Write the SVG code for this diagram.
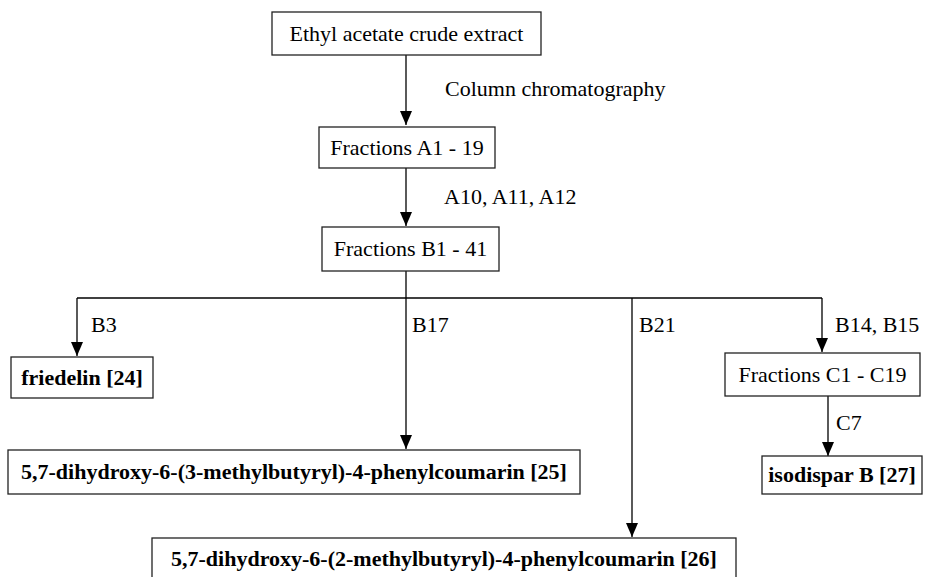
<svg xmlns="http://www.w3.org/2000/svg" width="928" height="577" viewBox="0 0 928 577">
<defs>
<marker id="ah" markerWidth="14" markerHeight="12" refX="14" refY="6" orient="auto" markerUnits="userSpaceOnUse">
<path d="M0,0 L14,6 L0,12 z" fill="#000"/>
</marker>
<style>
.box{fill:#fff;stroke:#222;stroke-width:1.3}
.t{font-family:"Liberation Serif","Times New Roman",serif;font-size:22px;fill:#000}
.b{font-weight:bold}
.c{fill:none;stroke:#000;stroke-width:1.3}
</style>
</defs>
<rect width="928" height="577" fill="#fff"/>
<g id="connectors">
<path class="c" d="M406,55 V125" marker-end="url(#ah)"/>
<path class="c" d="M406,168 V226" marker-end="url(#ah)"/>
<path class="c" d="M406,271 V298"/>
<path class="c" d="M77,298 H822"/>
<path class="c" d="M77,298 V356" marker-end="url(#ah)"/>
<path class="c" d="M406,298 V449" marker-end="url(#ah)"/>
<path class="c" d="M632,298 V537" marker-end="url(#ah)"/>
<path class="c" d="M822,298 V352" marker-end="url(#ah)"/>
<path class="c" d="M828,396 V456" marker-end="url(#ah)"/>
<text class="t" x="445" y="96">Column chromatography</text>
<text class="t" x="444" y="204">A10, A11, A12</text>
<text class="t" x="91" y="332">B3</text>
<text class="t" x="412" y="332">B17</text>
<text class="t" x="639" y="332">B21</text>
<text class="t" x="835" y="332">B14, B15</text>
<text class="t" x="836" y="430">C7</text>
</g>
<g id="n1"><rect class="box" x="272" y="12" width="269" height="43"/><text class="t" x="406.5" y="41" text-anchor="middle">Ethyl acetate crude extract</text></g>
<g id="n2"><rect class="box" x="319" y="127" width="176" height="41"/><text class="t" x="407" y="155" text-anchor="middle">Fractions A1 - 19</text></g>
<g id="n3"><rect class="box" x="322" y="227" width="177" height="44"/><text class="t" x="410.5" y="256" text-anchor="middle">Fractions B1 - 41</text></g>
<g id="n4"><rect class="box" x="11" y="357" width="142" height="41"/><text class="t b" x="82" y="385" text-anchor="middle">friedelin [24]</text></g>
<g id="n5"><rect class="box" x="725" y="353" width="195" height="43"/><text class="t" x="822.5" y="382" text-anchor="middle">Fractions C1 - C19</text></g>
<g id="n6"><rect class="box" x="8" y="450" width="572" height="44"/><text class="t b" x="294" y="479" text-anchor="middle">5,7-dihydroxy-6-(3-methylbutyryl)-4-phenylcoumarin [25]</text></g>
<g id="n7"><rect class="box" x="762" y="456" width="160" height="38"/><text class="t b" x="842" y="482" text-anchor="middle">isodispar B [27]</text></g>
<g id="n8"><rect class="box" x="152" y="538" width="584" height="45"/><text class="t b" x="444" y="566" text-anchor="middle">5,7-dihydroxy-6-(2-methylbutyryl)-4-phenylcoumarin [26]</text></g>
</svg>
